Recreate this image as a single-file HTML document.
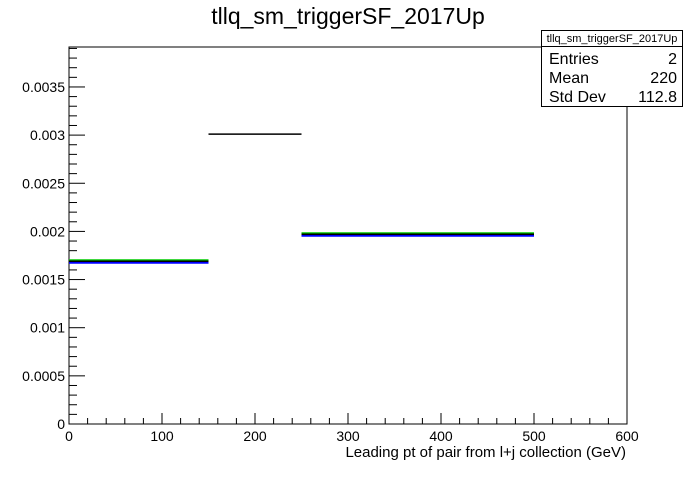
<!DOCTYPE html>
<html><head><meta charset="utf-8"><style>
body{margin:0;background:#fff;}
svg text{font-family:"Liberation Sans",sans-serif;}
</style></head><body>
<svg id="c" width="696" height="472" xmlns="http://www.w3.org/2000/svg">
<rect width="696" height="472" fill="#fff"/>
<text x="348" y="24" font-size="23" text-anchor="middle">tllq_sm_triggerSF_2017Up</text>
<rect x="69" y="47" width="558" height="377" fill="none" stroke="#000" stroke-width="1"/>
<g id="axes"></g>
<g id="marks"></g>
<text x="626" y="457" font-size="15" text-anchor="end">Leading pt of pair from l+j collection (GeV)</text>
<g>
<rect x="541.5" y="30.5" width="141" height="76" fill="#fff" stroke="#000"/>
<line x1="541.5" y1="46.5" x2="682.5" y2="46.5" stroke="#000"/>
<text x="612" y="42" font-size="11" text-anchor="middle">tllq_sm_triggerSF_2017Up</text>
<text x="549" y="64" font-size="16">Entries</text><text x="677" y="64" font-size="16" text-anchor="end">2</text>
<text x="549" y="83" font-size="16">Mean</text><text x="677" y="83" font-size="16" text-anchor="end">220</text>
<text x="549" y="102" font-size="16">Std Dev</text><text x="677" y="102" font-size="16" text-anchor="end">112.8</text>
</g>
</svg>
<script>
const binEdges=[0,150,250,500];
const binValues=[0.00169,0.00301,0.00197];
const errBins=[0,2];
const xTicks=[0,100,200,300,400,500,600];
const yTicks=[0,0.0005,0.001,0.0015,0.002,0.0025,0.003,0.0035];
const yTickLabels=["0","0.0005","0.001","0.0015","0.002","0.0025","0.003","0.0035"];
const X0=69,X1=627,Y0=424,Y1=47,xmax=600,ymax=0.003915;
const sx=v=>X0+v/xmax*(X1-X0), sy=v=>Y0-v/ymax*(Y0-Y1);
const NS="http://www.w3.org/2000/svg";
const ax=document.getElementById('axes'), mk=document.getElementById('marks');
function ln(p,x1,y1,x2,y2,c,w){const l=document.createElementNS(NS,'line');l.setAttribute('x1',x1);l.setAttribute('y1',y1);l.setAttribute('x2',x2);l.setAttribute('y2',y2);l.setAttribute('stroke',c);l.setAttribute('stroke-width',w);p.appendChild(l);return l;}
function tx(p,x,y,s,a){const t=document.createElementNS(NS,'text');t.setAttribute('x',x);t.setAttribute('y',y);t.setAttribute('font-size',14);t.setAttribute('text-anchor',a);t.textContent=s;p.appendChild(t);return t;}
for(let v=0;v<=xmax;v+=20){const maj=v%100===0;const l=ln(ax,sx(v),Y0,sx(v),Y0-(maj?11:6),'#000',1);

}
xTicks.forEach(v=>{const t=tx(ax,sx(v),441,String(v),'middle');

});
for(let i=0;i*0.0001<=ymax;i++){const v=i*0.0001;const maj=i%5===0;const l=ln(ax,X0,sy(v),X0+(maj?16:8),sy(v),'#000',1);

}
yTicks.forEach((v,i)=>{const t=tx(ax,X0-4,sy(v)+5,yTickLabels[i],'end');

});
binValues.forEach((v,i)=>{const xa=sx(binEdges[i]),xb=sx(binEdges[i+1]),y=sy(v);
if(errBins.includes(i)){
const g=ln(mk,xa,y-1,xb,y-1,'#00cc00',2);


const b=ln(mk,xa,y+1.5,xb,y+1.5,'#0000ff',2);

}
const k=ln(mk,xa,y,xb,y,'#000',1.5);

});
</script>
</body></html>
